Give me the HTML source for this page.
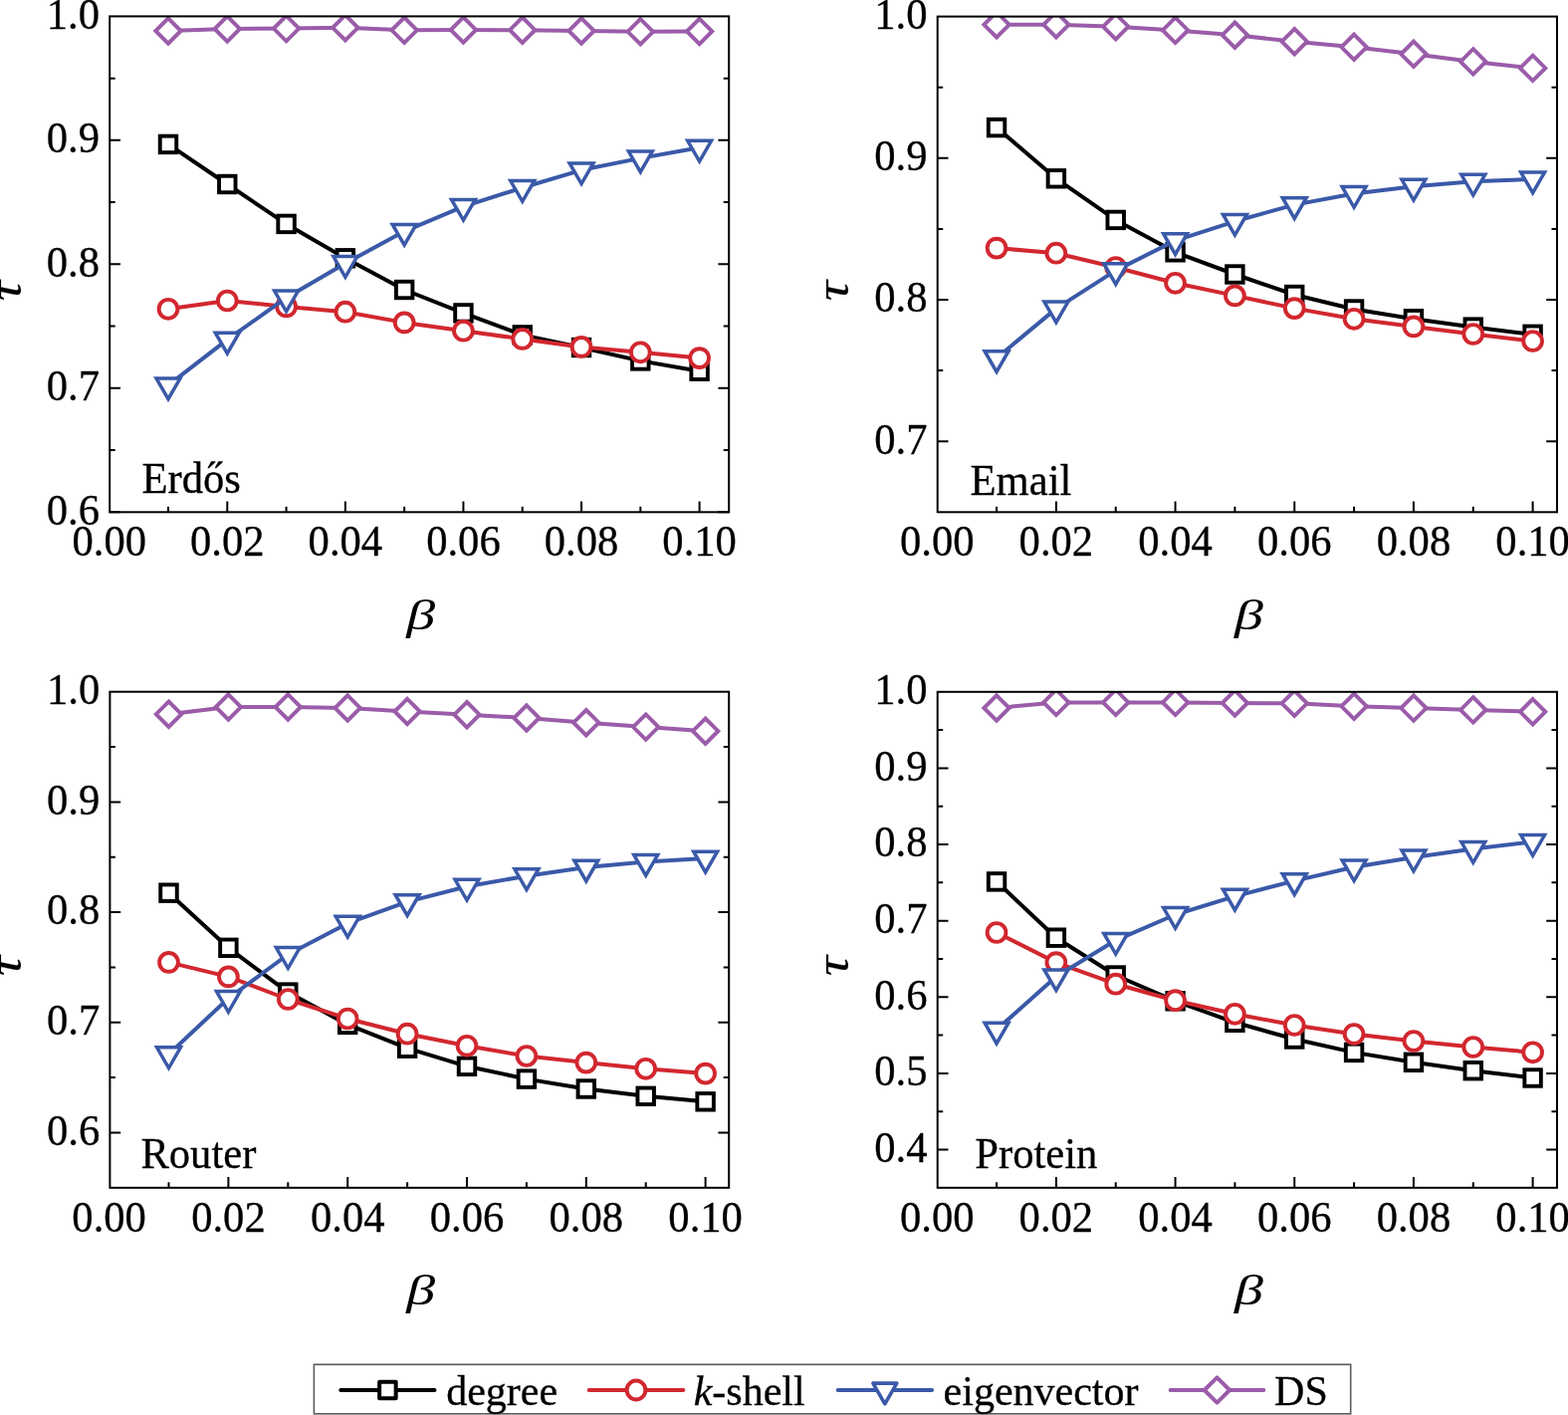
<!DOCTYPE html>
<html><head><meta charset="utf-8"><style>
html,body{margin:0;padding:0;background:#fff;overflow:hidden;}
svg{display:block;}
text{stroke:#000;stroke-width:0.3px;stroke-linejoin:round;}
</style></head><body>
<svg width="1575" height="1421" viewBox="0 0 1575 1421" font-family="'Liberation Serif', 'Times New Roman', serif" font-size="42.6" fill="#000">
<rect width="1575" height="1421" fill="#fff"/>
<path d="M168.99,514.30V508.80M228.28,514.30V503.50M287.57,514.30V508.80M346.86,514.30V503.50M406.15,514.30V508.80M465.44,514.30V503.50M524.73,514.30V508.80M584.02,514.30V503.50M643.31,514.30V508.80M702.60,514.30V503.50M110.20,514.30H121.00M732.20,514.30H721.40M110.20,389.82H121.00M732.20,389.82H721.40M110.20,265.35H121.00M732.20,265.35H721.40M110.20,140.87H121.00M732.20,140.87H721.40M110.20,78.64H115.70M732.20,78.64H726.70M110.20,203.11H115.70M732.20,203.11H726.70M110.20,327.59H115.70M732.20,327.59H726.70M110.20,452.06H115.70M732.20,452.06H726.70" stroke="#000" stroke-width="2.0" fill="none"/>
<clipPath id="c0"><rect x="110.20" y="16.40" width="622.00" height="497.90"/></clipPath>
<g clip-path="url(#c0)">
<path d="M168.99,144.90 L228.28,185.00 L287.57,224.90 L346.86,259.30 L406.15,291.00 L465.44,314.40 L524.73,336.40 L584.02,349.00 L643.31,362.40 L702.60,372.70" fill="none" stroke="#000000" stroke-width="4.0" stroke-linejoin="round"/>
<rect x="160.74" y="136.65" width="16.50" height="16.50" fill="#fff" stroke="#000000" stroke-width="3.9" stroke-linejoin="miter"/>
<rect x="220.03" y="176.75" width="16.50" height="16.50" fill="#fff" stroke="#000000" stroke-width="3.9" stroke-linejoin="miter"/>
<rect x="279.32" y="216.65" width="16.50" height="16.50" fill="#fff" stroke="#000000" stroke-width="3.9" stroke-linejoin="miter"/>
<rect x="338.61" y="251.05" width="16.50" height="16.50" fill="#fff" stroke="#000000" stroke-width="3.9" stroke-linejoin="miter"/>
<rect x="397.90" y="282.75" width="16.50" height="16.50" fill="#fff" stroke="#000000" stroke-width="3.9" stroke-linejoin="miter"/>
<rect x="457.19" y="306.15" width="16.50" height="16.50" fill="#fff" stroke="#000000" stroke-width="3.9" stroke-linejoin="miter"/>
<rect x="516.48" y="328.15" width="16.50" height="16.50" fill="#fff" stroke="#000000" stroke-width="3.9" stroke-linejoin="miter"/>
<rect x="575.77" y="340.75" width="16.50" height="16.50" fill="#fff" stroke="#000000" stroke-width="3.9" stroke-linejoin="miter"/>
<rect x="635.06" y="354.15" width="16.50" height="16.50" fill="#fff" stroke="#000000" stroke-width="3.9" stroke-linejoin="miter"/>
<rect x="694.35" y="364.45" width="16.50" height="16.50" fill="#fff" stroke="#000000" stroke-width="3.9" stroke-linejoin="miter"/>
<path d="M168.99,310.30 L228.28,302.00 L287.57,307.90 L346.86,313.20 L406.15,323.90 L465.44,332.20 L524.73,340.40 L584.02,348.40 L643.31,353.80 L702.60,359.60" fill="none" stroke="#d2272f" stroke-width="4.0" stroke-linejoin="round"/>
<circle cx="168.99" cy="310.30" r="9.40" fill="#fff" stroke="#d2272f" stroke-width="3.9"/>
<circle cx="228.28" cy="302.00" r="9.40" fill="#fff" stroke="#d2272f" stroke-width="3.9"/>
<circle cx="287.57" cy="307.90" r="9.40" fill="#fff" stroke="#d2272f" stroke-width="3.9"/>
<circle cx="346.86" cy="313.20" r="9.40" fill="#fff" stroke="#d2272f" stroke-width="3.9"/>
<circle cx="406.15" cy="323.90" r="9.40" fill="#fff" stroke="#d2272f" stroke-width="3.9"/>
<circle cx="465.44" cy="332.20" r="9.40" fill="#fff" stroke="#d2272f" stroke-width="3.9"/>
<circle cx="524.73" cy="340.40" r="9.40" fill="#fff" stroke="#d2272f" stroke-width="3.9"/>
<circle cx="584.02" cy="348.40" r="9.40" fill="#fff" stroke="#d2272f" stroke-width="3.9"/>
<circle cx="643.31" cy="353.80" r="9.40" fill="#fff" stroke="#d2272f" stroke-width="3.9"/>
<circle cx="702.60" cy="359.60" r="9.40" fill="#fff" stroke="#d2272f" stroke-width="3.9"/>
<path d="M168.99,386.90 L228.28,341.10 L287.57,299.00 L346.86,264.50 L406.15,232.30 L465.44,207.30 L524.73,188.50 L584.02,170.80 L643.31,158.90 L702.60,148.20" fill="none" stroke="#3a59a8" stroke-width="4.0" stroke-linejoin="round"/>
<path d="M157.04,380.00H180.94L168.99,400.70Z" fill="#fff" stroke="#3a59a8" stroke-width="3.50" stroke-linejoin="miter"/>
<path d="M216.33,334.20H240.23L228.28,354.90Z" fill="#fff" stroke="#3a59a8" stroke-width="3.50" stroke-linejoin="miter"/>
<path d="M275.62,292.10H299.52L287.57,312.80Z" fill="#fff" stroke="#3a59a8" stroke-width="3.50" stroke-linejoin="miter"/>
<path d="M334.91,257.60H358.81L346.86,278.30Z" fill="#fff" stroke="#3a59a8" stroke-width="3.50" stroke-linejoin="miter"/>
<path d="M394.20,225.40H418.10L406.15,246.10Z" fill="#fff" stroke="#3a59a8" stroke-width="3.50" stroke-linejoin="miter"/>
<path d="M453.49,200.40H477.39L465.44,221.10Z" fill="#fff" stroke="#3a59a8" stroke-width="3.50" stroke-linejoin="miter"/>
<path d="M512.78,181.60H536.68L524.73,202.30Z" fill="#fff" stroke="#3a59a8" stroke-width="3.50" stroke-linejoin="miter"/>
<path d="M572.07,163.90H595.97L584.02,184.60Z" fill="#fff" stroke="#3a59a8" stroke-width="3.50" stroke-linejoin="miter"/>
<path d="M631.36,152.00H655.26L643.31,172.70Z" fill="#fff" stroke="#3a59a8" stroke-width="3.50" stroke-linejoin="miter"/>
<path d="M690.65,141.30H714.55L702.60,162.00Z" fill="#fff" stroke="#3a59a8" stroke-width="3.50" stroke-linejoin="miter"/>
<path d="M168.99,31.00 L228.28,29.00 L287.57,28.60 L346.86,27.80 L406.15,30.30 L465.44,30.00 L524.73,30.20 L584.02,31.00 L643.31,31.80 L702.60,31.50" fill="none" stroke="#9a5ca9" stroke-width="4.0" stroke-linejoin="round"/>
<path d="M168.99,18.30L181.69,31.00L168.99,43.70L156.29,31.00Z" fill="#fff" stroke="#9a5ca9" stroke-width="3.9" stroke-linejoin="miter"/>
<path d="M228.28,16.30L240.98,29.00L228.28,41.70L215.58,29.00Z" fill="#fff" stroke="#9a5ca9" stroke-width="3.9" stroke-linejoin="miter"/>
<path d="M287.57,15.90L300.27,28.60L287.57,41.30L274.87,28.60Z" fill="#fff" stroke="#9a5ca9" stroke-width="3.9" stroke-linejoin="miter"/>
<path d="M346.86,15.10L359.56,27.80L346.86,40.50L334.16,27.80Z" fill="#fff" stroke="#9a5ca9" stroke-width="3.9" stroke-linejoin="miter"/>
<path d="M406.15,17.60L418.85,30.30L406.15,43.00L393.45,30.30Z" fill="#fff" stroke="#9a5ca9" stroke-width="3.9" stroke-linejoin="miter"/>
<path d="M465.44,17.30L478.14,30.00L465.44,42.70L452.74,30.00Z" fill="#fff" stroke="#9a5ca9" stroke-width="3.9" stroke-linejoin="miter"/>
<path d="M524.73,17.50L537.43,30.20L524.73,42.90L512.03,30.20Z" fill="#fff" stroke="#9a5ca9" stroke-width="3.9" stroke-linejoin="miter"/>
<path d="M584.02,18.30L596.72,31.00L584.02,43.70L571.32,31.00Z" fill="#fff" stroke="#9a5ca9" stroke-width="3.9" stroke-linejoin="miter"/>
<path d="M643.31,19.10L656.01,31.80L643.31,44.50L630.61,31.80Z" fill="#fff" stroke="#9a5ca9" stroke-width="3.9" stroke-linejoin="miter"/>
<path d="M702.60,18.80L715.30,31.50L702.60,44.20L689.90,31.50Z" fill="#fff" stroke="#9a5ca9" stroke-width="3.9" stroke-linejoin="miter"/>
</g>
<rect x="110.20" y="16.40" width="622.00" height="497.90" fill="none" stroke="#000" stroke-width="2.0"/>
<text transform="matrix(1 0 0 1.035 109.70 558.30)" text-anchor="middle">0.00</text>
<text transform="matrix(1 0 0 1.035 228.28 558.30)" text-anchor="middle">0.02</text>
<text transform="matrix(1 0 0 1.035 346.86 558.30)" text-anchor="middle">0.04</text>
<text transform="matrix(1 0 0 1.035 465.44 558.30)" text-anchor="middle">0.06</text>
<text transform="matrix(1 0 0 1.035 584.02 558.30)" text-anchor="middle">0.08</text>
<text transform="matrix(1 0 0 1.035 702.60 558.30)" text-anchor="middle">0.10</text>
<text transform="matrix(1 0 0 1.035 100.00 526.70)" text-anchor="end">0.6</text>
<text transform="matrix(1 0 0 1.035 100.00 402.22)" text-anchor="end">0.7</text>
<text transform="matrix(1 0 0 1.035 100.00 277.75)" text-anchor="end">0.8</text>
<text transform="matrix(1 0 0 1.035 100.00 153.27)" text-anchor="end">0.9</text>
<text transform="matrix(1 0 0 1.035 100.00 28.80)" text-anchor="end">1.0</text>
<text font-style="italic" text-anchor="middle" style="stroke-width:0.15px" transform="translate(20.5 292.3) rotate(-90) scale(1.32 1.14)">τ</text>
<text font-style="italic" text-anchor="middle" style="stroke:none" transform="translate(422.7 631.5) scale(1.36 1)">β</text>
<text transform="matrix(1 0 0 1.035 142.5 495)">Erdős</text>
<path d="M1001.04,514.30V508.80M1060.88,514.30V503.50M1120.72,514.30V508.80M1180.56,514.30V503.50M1240.40,514.30V508.80M1300.24,514.30V503.50M1360.08,514.30V508.80M1419.92,514.30V503.50M1479.76,514.30V508.80M1539.60,514.30V503.50M941.70,443.20H952.50M1564.00,443.20H1553.20M941.70,301.00H952.50M1564.00,301.00H1553.20M941.70,158.80H952.50M1564.00,158.80H1553.20M941.70,87.70H947.20M1564.00,87.70H1558.50M941.70,229.90H947.20M1564.00,229.90H1558.50M941.70,372.10H947.20M1564.00,372.10H1558.50" stroke="#000" stroke-width="2.0" fill="none"/>
<clipPath id="c1"><rect x="941.70" y="16.60" width="622.30" height="497.70"/></clipPath>
<g clip-path="url(#c1)">
<path d="M1001.04,128.10 L1060.88,179.30 L1120.72,220.90 L1180.56,253.30 L1240.40,275.50 L1300.24,296.00 L1360.08,310.50 L1419.92,320.20 L1479.76,328.60 L1539.60,335.80" fill="none" stroke="#000000" stroke-width="4.0" stroke-linejoin="round"/>
<rect x="992.79" y="119.85" width="16.50" height="16.50" fill="#fff" stroke="#000000" stroke-width="3.9" stroke-linejoin="miter"/>
<rect x="1052.63" y="171.05" width="16.50" height="16.50" fill="#fff" stroke="#000000" stroke-width="3.9" stroke-linejoin="miter"/>
<rect x="1112.47" y="212.65" width="16.50" height="16.50" fill="#fff" stroke="#000000" stroke-width="3.9" stroke-linejoin="miter"/>
<rect x="1172.31" y="245.05" width="16.50" height="16.50" fill="#fff" stroke="#000000" stroke-width="3.9" stroke-linejoin="miter"/>
<rect x="1232.15" y="267.25" width="16.50" height="16.50" fill="#fff" stroke="#000000" stroke-width="3.9" stroke-linejoin="miter"/>
<rect x="1291.99" y="287.75" width="16.50" height="16.50" fill="#fff" stroke="#000000" stroke-width="3.9" stroke-linejoin="miter"/>
<rect x="1351.83" y="302.25" width="16.50" height="16.50" fill="#fff" stroke="#000000" stroke-width="3.9" stroke-linejoin="miter"/>
<rect x="1411.67" y="311.95" width="16.50" height="16.50" fill="#fff" stroke="#000000" stroke-width="3.9" stroke-linejoin="miter"/>
<rect x="1471.51" y="320.35" width="16.50" height="16.50" fill="#fff" stroke="#000000" stroke-width="3.9" stroke-linejoin="miter"/>
<rect x="1531.35" y="327.55" width="16.50" height="16.50" fill="#fff" stroke="#000000" stroke-width="3.9" stroke-linejoin="miter"/>
<path d="M1001.04,249.10 L1060.88,254.20 L1120.72,268.50 L1180.56,284.30 L1240.40,296.90 L1300.24,309.60 L1360.08,320.30 L1419.92,327.90 L1479.76,335.50 L1539.60,342.50" fill="none" stroke="#d2272f" stroke-width="4.0" stroke-linejoin="round"/>
<circle cx="1001.04" cy="249.10" r="9.40" fill="#fff" stroke="#d2272f" stroke-width="3.9"/>
<circle cx="1060.88" cy="254.20" r="9.40" fill="#fff" stroke="#d2272f" stroke-width="3.9"/>
<circle cx="1120.72" cy="268.50" r="9.40" fill="#fff" stroke="#d2272f" stroke-width="3.9"/>
<circle cx="1180.56" cy="284.30" r="9.40" fill="#fff" stroke="#d2272f" stroke-width="3.9"/>
<circle cx="1240.40" cy="296.90" r="9.40" fill="#fff" stroke="#d2272f" stroke-width="3.9"/>
<circle cx="1300.24" cy="309.60" r="9.40" fill="#fff" stroke="#d2272f" stroke-width="3.9"/>
<circle cx="1360.08" cy="320.30" r="9.40" fill="#fff" stroke="#d2272f" stroke-width="3.9"/>
<circle cx="1419.92" cy="327.90" r="9.40" fill="#fff" stroke="#d2272f" stroke-width="3.9"/>
<circle cx="1479.76" cy="335.50" r="9.40" fill="#fff" stroke="#d2272f" stroke-width="3.9"/>
<circle cx="1539.60" cy="342.50" r="9.40" fill="#fff" stroke="#d2272f" stroke-width="3.9"/>
<path d="M1001.04,359.60 L1060.88,309.90 L1120.72,271.60 L1180.56,241.60 L1240.40,222.30 L1300.24,205.60 L1360.08,194.50 L1419.92,187.20 L1479.76,182.20 L1539.60,179.90" fill="none" stroke="#3a59a8" stroke-width="4.0" stroke-linejoin="round"/>
<path d="M989.09,352.70H1012.99L1001.04,373.40Z" fill="#fff" stroke="#3a59a8" stroke-width="3.50" stroke-linejoin="miter"/>
<path d="M1048.93,303.00H1072.83L1060.88,323.70Z" fill="#fff" stroke="#3a59a8" stroke-width="3.50" stroke-linejoin="miter"/>
<path d="M1108.77,264.70H1132.67L1120.72,285.40Z" fill="#fff" stroke="#3a59a8" stroke-width="3.50" stroke-linejoin="miter"/>
<path d="M1168.61,234.70H1192.51L1180.56,255.40Z" fill="#fff" stroke="#3a59a8" stroke-width="3.50" stroke-linejoin="miter"/>
<path d="M1228.45,215.40H1252.35L1240.40,236.10Z" fill="#fff" stroke="#3a59a8" stroke-width="3.50" stroke-linejoin="miter"/>
<path d="M1288.29,198.70H1312.19L1300.24,219.40Z" fill="#fff" stroke="#3a59a8" stroke-width="3.50" stroke-linejoin="miter"/>
<path d="M1348.13,187.60H1372.03L1360.08,208.30Z" fill="#fff" stroke="#3a59a8" stroke-width="3.50" stroke-linejoin="miter"/>
<path d="M1407.97,180.30H1431.87L1419.92,201.00Z" fill="#fff" stroke="#3a59a8" stroke-width="3.50" stroke-linejoin="miter"/>
<path d="M1467.81,175.30H1491.71L1479.76,196.00Z" fill="#fff" stroke="#3a59a8" stroke-width="3.50" stroke-linejoin="miter"/>
<path d="M1527.65,173.00H1551.55L1539.60,193.70Z" fill="#fff" stroke="#3a59a8" stroke-width="3.50" stroke-linejoin="miter"/>
<path d="M1001.04,24.80 L1060.88,24.80 L1120.72,26.70 L1180.56,30.40 L1240.40,35.20 L1300.24,41.70 L1360.08,47.30 L1419.92,54.30 L1479.76,61.90 L1539.60,68.40" fill="none" stroke="#9a5ca9" stroke-width="4.0" stroke-linejoin="round"/>
<path d="M1001.04,12.10L1013.74,24.80L1001.04,37.50L988.34,24.80Z" fill="#fff" stroke="#9a5ca9" stroke-width="3.9" stroke-linejoin="miter"/>
<path d="M1060.88,12.10L1073.58,24.80L1060.88,37.50L1048.18,24.80Z" fill="#fff" stroke="#9a5ca9" stroke-width="3.9" stroke-linejoin="miter"/>
<path d="M1120.72,14.00L1133.42,26.70L1120.72,39.40L1108.02,26.70Z" fill="#fff" stroke="#9a5ca9" stroke-width="3.9" stroke-linejoin="miter"/>
<path d="M1180.56,17.70L1193.26,30.40L1180.56,43.10L1167.86,30.40Z" fill="#fff" stroke="#9a5ca9" stroke-width="3.9" stroke-linejoin="miter"/>
<path d="M1240.40,22.50L1253.10,35.20L1240.40,47.90L1227.70,35.20Z" fill="#fff" stroke="#9a5ca9" stroke-width="3.9" stroke-linejoin="miter"/>
<path d="M1300.24,29.00L1312.94,41.70L1300.24,54.40L1287.54,41.70Z" fill="#fff" stroke="#9a5ca9" stroke-width="3.9" stroke-linejoin="miter"/>
<path d="M1360.08,34.60L1372.78,47.30L1360.08,60.00L1347.38,47.30Z" fill="#fff" stroke="#9a5ca9" stroke-width="3.9" stroke-linejoin="miter"/>
<path d="M1419.92,41.60L1432.62,54.30L1419.92,67.00L1407.22,54.30Z" fill="#fff" stroke="#9a5ca9" stroke-width="3.9" stroke-linejoin="miter"/>
<path d="M1479.76,49.20L1492.46,61.90L1479.76,74.60L1467.06,61.90Z" fill="#fff" stroke="#9a5ca9" stroke-width="3.9" stroke-linejoin="miter"/>
<path d="M1539.60,55.70L1552.30,68.40L1539.60,81.10L1526.90,68.40Z" fill="#fff" stroke="#9a5ca9" stroke-width="3.9" stroke-linejoin="miter"/>
</g>
<rect x="941.70" y="16.60" width="622.30" height="497.70" fill="none" stroke="#000" stroke-width="2.0"/>
<text transform="matrix(1 0 0 1.035 941.20 558.30)" text-anchor="middle">0.00</text>
<text transform="matrix(1 0 0 1.035 1060.88 558.30)" text-anchor="middle">0.02</text>
<text transform="matrix(1 0 0 1.035 1180.56 558.30)" text-anchor="middle">0.04</text>
<text transform="matrix(1 0 0 1.035 1300.24 558.30)" text-anchor="middle">0.06</text>
<text transform="matrix(1 0 0 1.035 1419.92 558.30)" text-anchor="middle">0.08</text>
<text transform="matrix(1 0 0 1.035 1539.60 558.30)" text-anchor="middle">0.10</text>
<text transform="matrix(1 0 0 1.035 931.50 455.60)" text-anchor="end">0.7</text>
<text transform="matrix(1 0 0 1.035 931.50 313.40)" text-anchor="end">0.8</text>
<text transform="matrix(1 0 0 1.035 931.50 171.20)" text-anchor="end">0.9</text>
<text transform="matrix(1 0 0 1.035 931.50 29.00)" text-anchor="end">1.0</text>
<text font-style="italic" text-anchor="middle" style="stroke-width:0.15px" transform="translate(852 292.3) rotate(-90) scale(1.32 1.14)">τ</text>
<text font-style="italic" text-anchor="middle" style="stroke:none" transform="translate(1254.5 631.5) scale(1.36 1)">β</text>
<text transform="matrix(1 0 0 1.035 974.6 496.7)">Email</text>
<path d="M169.50,1192.80V1187.30M229.40,1192.80V1182.00M289.30,1192.80V1187.30M349.20,1192.80V1182.00M409.10,1192.80V1187.30M469.00,1192.80V1182.00M528.90,1192.80V1187.30M588.80,1192.80V1182.00M648.70,1192.80V1187.30M708.60,1192.80V1182.00M110.40,1137.46H121.20M732.20,1137.46H721.40M110.40,1026.77H121.20M732.20,1026.77H721.40M110.40,916.08H121.20M732.20,916.08H721.40M110.40,805.39H121.20M732.20,805.39H721.40M110.40,750.04H115.90M732.20,750.04H726.70M110.40,860.73H115.90M732.20,860.73H726.70M110.40,971.42H115.90M732.20,971.42H726.70M110.40,1082.11H115.90M732.20,1082.11H726.70" stroke="#000" stroke-width="2.0" fill="none"/>
<clipPath id="c2"><rect x="110.40" y="694.70" width="621.80" height="498.10"/></clipPath>
<g clip-path="url(#c2)">
<path d="M169.50,896.70 L229.40,951.80 L289.30,996.60 L349.20,1028.90 L409.10,1052.70 L469.00,1070.80 L528.90,1083.60 L588.80,1093.50 L648.70,1100.80 L708.60,1106.30" fill="none" stroke="#000000" stroke-width="4.0" stroke-linejoin="round"/>
<rect x="161.25" y="888.45" width="16.50" height="16.50" fill="#fff" stroke="#000000" stroke-width="3.9" stroke-linejoin="miter"/>
<rect x="221.15" y="943.55" width="16.50" height="16.50" fill="#fff" stroke="#000000" stroke-width="3.9" stroke-linejoin="miter"/>
<rect x="281.05" y="988.35" width="16.50" height="16.50" fill="#fff" stroke="#000000" stroke-width="3.9" stroke-linejoin="miter"/>
<rect x="340.95" y="1020.65" width="16.50" height="16.50" fill="#fff" stroke="#000000" stroke-width="3.9" stroke-linejoin="miter"/>
<rect x="400.85" y="1044.45" width="16.50" height="16.50" fill="#fff" stroke="#000000" stroke-width="3.9" stroke-linejoin="miter"/>
<rect x="460.75" y="1062.55" width="16.50" height="16.50" fill="#fff" stroke="#000000" stroke-width="3.9" stroke-linejoin="miter"/>
<rect x="520.65" y="1075.35" width="16.50" height="16.50" fill="#fff" stroke="#000000" stroke-width="3.9" stroke-linejoin="miter"/>
<rect x="580.55" y="1085.25" width="16.50" height="16.50" fill="#fff" stroke="#000000" stroke-width="3.9" stroke-linejoin="miter"/>
<rect x="640.45" y="1092.55" width="16.50" height="16.50" fill="#fff" stroke="#000000" stroke-width="3.9" stroke-linejoin="miter"/>
<rect x="700.35" y="1098.05" width="16.50" height="16.50" fill="#fff" stroke="#000000" stroke-width="3.9" stroke-linejoin="miter"/>
<path d="M169.50,966.40 L229.40,980.90 L289.30,1003.50 L349.20,1023.00 L409.10,1038.20 L469.00,1050.30 L528.90,1060.50 L588.80,1067.10 L648.70,1073.30 L708.60,1078.10" fill="none" stroke="#d2272f" stroke-width="4.0" stroke-linejoin="round"/>
<circle cx="169.50" cy="966.40" r="9.40" fill="#fff" stroke="#d2272f" stroke-width="3.9"/>
<circle cx="229.40" cy="980.90" r="9.40" fill="#fff" stroke="#d2272f" stroke-width="3.9"/>
<circle cx="289.30" cy="1003.50" r="9.40" fill="#fff" stroke="#d2272f" stroke-width="3.9"/>
<circle cx="349.20" cy="1023.00" r="9.40" fill="#fff" stroke="#d2272f" stroke-width="3.9"/>
<circle cx="409.10" cy="1038.20" r="9.40" fill="#fff" stroke="#d2272f" stroke-width="3.9"/>
<circle cx="469.00" cy="1050.30" r="9.40" fill="#fff" stroke="#d2272f" stroke-width="3.9"/>
<circle cx="528.90" cy="1060.50" r="9.40" fill="#fff" stroke="#d2272f" stroke-width="3.9"/>
<circle cx="588.80" cy="1067.10" r="9.40" fill="#fff" stroke="#d2272f" stroke-width="3.9"/>
<circle cx="648.70" cy="1073.30" r="9.40" fill="#fff" stroke="#d2272f" stroke-width="3.9"/>
<circle cx="708.60" cy="1078.10" r="9.40" fill="#fff" stroke="#d2272f" stroke-width="3.9"/>
<path d="M169.50,1058.70 L229.40,1002.50 L289.30,958.50 L349.20,927.20 L409.10,905.60 L469.00,890.20 L528.90,879.70 L588.80,871.10 L648.70,865.40 L708.60,862.10" fill="none" stroke="#3a59a8" stroke-width="4.0" stroke-linejoin="round"/>
<path d="M157.55,1051.80H181.45L169.50,1072.50Z" fill="#fff" stroke="#3a59a8" stroke-width="3.50" stroke-linejoin="miter"/>
<path d="M217.45,995.60H241.35L229.40,1016.30Z" fill="#fff" stroke="#3a59a8" stroke-width="3.50" stroke-linejoin="miter"/>
<path d="M277.35,951.60H301.25L289.30,972.30Z" fill="#fff" stroke="#3a59a8" stroke-width="3.50" stroke-linejoin="miter"/>
<path d="M337.25,920.30H361.15L349.20,941.00Z" fill="#fff" stroke="#3a59a8" stroke-width="3.50" stroke-linejoin="miter"/>
<path d="M397.15,898.70H421.05L409.10,919.40Z" fill="#fff" stroke="#3a59a8" stroke-width="3.50" stroke-linejoin="miter"/>
<path d="M457.05,883.30H480.95L469.00,904.00Z" fill="#fff" stroke="#3a59a8" stroke-width="3.50" stroke-linejoin="miter"/>
<path d="M516.95,872.80H540.85L528.90,893.50Z" fill="#fff" stroke="#3a59a8" stroke-width="3.50" stroke-linejoin="miter"/>
<path d="M576.85,864.20H600.75L588.80,884.90Z" fill="#fff" stroke="#3a59a8" stroke-width="3.50" stroke-linejoin="miter"/>
<path d="M636.75,858.50H660.65L648.70,879.20Z" fill="#fff" stroke="#3a59a8" stroke-width="3.50" stroke-linejoin="miter"/>
<path d="M696.65,855.20H720.55L708.60,875.90Z" fill="#fff" stroke="#3a59a8" stroke-width="3.50" stroke-linejoin="miter"/>
<path d="M169.50,717.20 L229.40,710.00 L289.30,710.00 L349.20,711.00 L409.10,714.50 L469.00,717.70 L528.90,721.00 L588.80,725.70 L648.70,730.10 L708.60,734.20" fill="none" stroke="#9a5ca9" stroke-width="4.0" stroke-linejoin="round"/>
<path d="M169.50,704.50L182.20,717.20L169.50,729.90L156.80,717.20Z" fill="#fff" stroke="#9a5ca9" stroke-width="3.9" stroke-linejoin="miter"/>
<path d="M229.40,697.30L242.10,710.00L229.40,722.70L216.70,710.00Z" fill="#fff" stroke="#9a5ca9" stroke-width="3.9" stroke-linejoin="miter"/>
<path d="M289.30,697.30L302.00,710.00L289.30,722.70L276.60,710.00Z" fill="#fff" stroke="#9a5ca9" stroke-width="3.9" stroke-linejoin="miter"/>
<path d="M349.20,698.30L361.90,711.00L349.20,723.70L336.50,711.00Z" fill="#fff" stroke="#9a5ca9" stroke-width="3.9" stroke-linejoin="miter"/>
<path d="M409.10,701.80L421.80,714.50L409.10,727.20L396.40,714.50Z" fill="#fff" stroke="#9a5ca9" stroke-width="3.9" stroke-linejoin="miter"/>
<path d="M469.00,705.00L481.70,717.70L469.00,730.40L456.30,717.70Z" fill="#fff" stroke="#9a5ca9" stroke-width="3.9" stroke-linejoin="miter"/>
<path d="M528.90,708.30L541.60,721.00L528.90,733.70L516.20,721.00Z" fill="#fff" stroke="#9a5ca9" stroke-width="3.9" stroke-linejoin="miter"/>
<path d="M588.80,713.00L601.50,725.70L588.80,738.40L576.10,725.70Z" fill="#fff" stroke="#9a5ca9" stroke-width="3.9" stroke-linejoin="miter"/>
<path d="M648.70,717.40L661.40,730.10L648.70,742.80L636.00,730.10Z" fill="#fff" stroke="#9a5ca9" stroke-width="3.9" stroke-linejoin="miter"/>
<path d="M708.60,721.50L721.30,734.20L708.60,746.90L695.90,734.20Z" fill="#fff" stroke="#9a5ca9" stroke-width="3.9" stroke-linejoin="miter"/>
</g>
<rect x="110.40" y="694.70" width="621.80" height="498.10" fill="none" stroke="#000" stroke-width="2.0"/>
<text transform="matrix(1 0 0 1.035 109.60 1236.80)" text-anchor="middle">0.00</text>
<text transform="matrix(1 0 0 1.035 229.40 1236.80)" text-anchor="middle">0.02</text>
<text transform="matrix(1 0 0 1.035 349.20 1236.80)" text-anchor="middle">0.04</text>
<text transform="matrix(1 0 0 1.035 469.00 1236.80)" text-anchor="middle">0.06</text>
<text transform="matrix(1 0 0 1.035 588.80 1236.80)" text-anchor="middle">0.08</text>
<text transform="matrix(1 0 0 1.035 708.60 1236.80)" text-anchor="middle">0.10</text>
<text transform="matrix(1 0 0 1.035 100.20 1149.86)" text-anchor="end">0.6</text>
<text transform="matrix(1 0 0 1.035 100.20 1039.17)" text-anchor="end">0.7</text>
<text transform="matrix(1 0 0 1.035 100.20 928.48)" text-anchor="end">0.8</text>
<text transform="matrix(1 0 0 1.035 100.20 817.79)" text-anchor="end">0.9</text>
<text transform="matrix(1 0 0 1.035 100.20 707.10)" text-anchor="end">1.0</text>
<text font-style="italic" text-anchor="middle" style="stroke-width:0.15px" transform="translate(20.5 970.3) rotate(-90) scale(1.32 1.14)">τ</text>
<text font-style="italic" text-anchor="middle" style="stroke:none" transform="translate(422.7 1309.5) scale(1.36 1)">β</text>
<text transform="matrix(1 0 0 1.035 141.4 1172.7)">Router</text>
<path d="M1001.04,1192.80V1187.30M1060.88,1192.80V1182.00M1120.72,1192.80V1187.30M1180.56,1192.80V1182.00M1240.40,1192.80V1187.30M1300.24,1192.80V1182.00M1360.08,1192.80V1187.30M1419.92,1192.80V1182.00M1479.76,1192.80V1187.30M1539.60,1192.80V1182.00M941.70,1154.49H952.50M1564.00,1154.49H1553.20M941.70,1077.88H952.50M1564.00,1077.88H1553.20M941.70,1001.26H952.50M1564.00,1001.26H1553.20M941.70,924.65H952.50M1564.00,924.65H1553.20M941.70,848.03H952.50M1564.00,848.03H1553.20M941.70,771.42H952.50M1564.00,771.42H1553.20M941.70,733.11H947.20M1564.00,733.11H1558.50M941.70,809.72H947.20M1564.00,809.72H1558.50M941.70,886.34H947.20M1564.00,886.34H1558.50M941.70,962.95H947.20M1564.00,962.95H1558.50M941.70,1039.57H947.20M1564.00,1039.57H1558.50M941.70,1116.18H947.20M1564.00,1116.18H1558.50" stroke="#000" stroke-width="2.0" fill="none"/>
<clipPath id="c3"><rect x="941.70" y="694.80" width="622.30" height="498.00"/></clipPath>
<g clip-path="url(#c3)">
<path d="M1001.04,885.40 L1060.88,941.70 L1120.72,979.50 L1180.56,1005.30 L1240.40,1026.80 L1300.24,1043.50 L1360.08,1056.90 L1419.92,1066.80 L1479.76,1075.20 L1539.60,1082.50" fill="none" stroke="#000000" stroke-width="4.0" stroke-linejoin="round"/>
<rect x="992.79" y="877.15" width="16.50" height="16.50" fill="#fff" stroke="#000000" stroke-width="3.9" stroke-linejoin="miter"/>
<rect x="1052.63" y="933.45" width="16.50" height="16.50" fill="#fff" stroke="#000000" stroke-width="3.9" stroke-linejoin="miter"/>
<rect x="1112.47" y="971.25" width="16.50" height="16.50" fill="#fff" stroke="#000000" stroke-width="3.9" stroke-linejoin="miter"/>
<rect x="1172.31" y="997.05" width="16.50" height="16.50" fill="#fff" stroke="#000000" stroke-width="3.9" stroke-linejoin="miter"/>
<rect x="1232.15" y="1018.55" width="16.50" height="16.50" fill="#fff" stroke="#000000" stroke-width="3.9" stroke-linejoin="miter"/>
<rect x="1291.99" y="1035.25" width="16.50" height="16.50" fill="#fff" stroke="#000000" stroke-width="3.9" stroke-linejoin="miter"/>
<rect x="1351.83" y="1048.65" width="16.50" height="16.50" fill="#fff" stroke="#000000" stroke-width="3.9" stroke-linejoin="miter"/>
<rect x="1411.67" y="1058.55" width="16.50" height="16.50" fill="#fff" stroke="#000000" stroke-width="3.9" stroke-linejoin="miter"/>
<rect x="1471.51" y="1066.95" width="16.50" height="16.50" fill="#fff" stroke="#000000" stroke-width="3.9" stroke-linejoin="miter"/>
<rect x="1531.35" y="1074.25" width="16.50" height="16.50" fill="#fff" stroke="#000000" stroke-width="3.9" stroke-linejoin="miter"/>
<path d="M1001.04,936.50 L1060.88,966.60 L1120.72,988.20 L1180.56,1004.70 L1240.40,1018.30 L1300.24,1029.50 L1360.08,1038.50 L1419.92,1045.50 L1479.76,1051.50 L1539.60,1056.80" fill="none" stroke="#d2272f" stroke-width="4.0" stroke-linejoin="round"/>
<circle cx="1001.04" cy="936.50" r="9.40" fill="#fff" stroke="#d2272f" stroke-width="3.9"/>
<circle cx="1060.88" cy="966.60" r="9.40" fill="#fff" stroke="#d2272f" stroke-width="3.9"/>
<circle cx="1120.72" cy="988.20" r="9.40" fill="#fff" stroke="#d2272f" stroke-width="3.9"/>
<circle cx="1180.56" cy="1004.70" r="9.40" fill="#fff" stroke="#d2272f" stroke-width="3.9"/>
<circle cx="1240.40" cy="1018.30" r="9.40" fill="#fff" stroke="#d2272f" stroke-width="3.9"/>
<circle cx="1300.24" cy="1029.50" r="9.40" fill="#fff" stroke="#d2272f" stroke-width="3.9"/>
<circle cx="1360.08" cy="1038.50" r="9.40" fill="#fff" stroke="#d2272f" stroke-width="3.9"/>
<circle cx="1419.92" cy="1045.50" r="9.40" fill="#fff" stroke="#d2272f" stroke-width="3.9"/>
<circle cx="1479.76" cy="1051.50" r="9.40" fill="#fff" stroke="#d2272f" stroke-width="3.9"/>
<circle cx="1539.60" cy="1056.80" r="9.40" fill="#fff" stroke="#d2272f" stroke-width="3.9"/>
<path d="M1001.04,1034.10 L1060.88,980.80 L1120.72,944.30 L1180.56,918.50 L1240.40,900.10 L1300.24,884.60 L1360.08,870.80 L1419.92,861.00 L1479.76,852.50 L1539.60,845.50" fill="none" stroke="#3a59a8" stroke-width="4.0" stroke-linejoin="round"/>
<path d="M989.09,1027.20H1012.99L1001.04,1047.90Z" fill="#fff" stroke="#3a59a8" stroke-width="3.50" stroke-linejoin="miter"/>
<path d="M1048.93,973.90H1072.83L1060.88,994.60Z" fill="#fff" stroke="#3a59a8" stroke-width="3.50" stroke-linejoin="miter"/>
<path d="M1108.77,937.40H1132.67L1120.72,958.10Z" fill="#fff" stroke="#3a59a8" stroke-width="3.50" stroke-linejoin="miter"/>
<path d="M1168.61,911.60H1192.51L1180.56,932.30Z" fill="#fff" stroke="#3a59a8" stroke-width="3.50" stroke-linejoin="miter"/>
<path d="M1228.45,893.20H1252.35L1240.40,913.90Z" fill="#fff" stroke="#3a59a8" stroke-width="3.50" stroke-linejoin="miter"/>
<path d="M1288.29,877.70H1312.19L1300.24,898.40Z" fill="#fff" stroke="#3a59a8" stroke-width="3.50" stroke-linejoin="miter"/>
<path d="M1348.13,863.90H1372.03L1360.08,884.60Z" fill="#fff" stroke="#3a59a8" stroke-width="3.50" stroke-linejoin="miter"/>
<path d="M1407.97,854.10H1431.87L1419.92,874.80Z" fill="#fff" stroke="#3a59a8" stroke-width="3.50" stroke-linejoin="miter"/>
<path d="M1467.81,845.60H1491.71L1479.76,866.30Z" fill="#fff" stroke="#3a59a8" stroke-width="3.50" stroke-linejoin="miter"/>
<path d="M1527.65,838.60H1551.55L1539.60,859.30Z" fill="#fff" stroke="#3a59a8" stroke-width="3.50" stroke-linejoin="miter"/>
<path d="M1001.04,711.00 L1060.88,705.40 L1120.72,705.40 L1180.56,705.40 L1240.40,706.00 L1300.24,706.30 L1360.08,709.30 L1419.92,711.10 L1479.76,712.90 L1539.60,714.80" fill="none" stroke="#9a5ca9" stroke-width="4.0" stroke-linejoin="round"/>
<path d="M1001.04,698.30L1013.74,711.00L1001.04,723.70L988.34,711.00Z" fill="#fff" stroke="#9a5ca9" stroke-width="3.9" stroke-linejoin="miter"/>
<path d="M1060.88,692.70L1073.58,705.40L1060.88,718.10L1048.18,705.40Z" fill="#fff" stroke="#9a5ca9" stroke-width="3.9" stroke-linejoin="miter"/>
<path d="M1120.72,692.70L1133.42,705.40L1120.72,718.10L1108.02,705.40Z" fill="#fff" stroke="#9a5ca9" stroke-width="3.9" stroke-linejoin="miter"/>
<path d="M1180.56,692.70L1193.26,705.40L1180.56,718.10L1167.86,705.40Z" fill="#fff" stroke="#9a5ca9" stroke-width="3.9" stroke-linejoin="miter"/>
<path d="M1240.40,693.30L1253.10,706.00L1240.40,718.70L1227.70,706.00Z" fill="#fff" stroke="#9a5ca9" stroke-width="3.9" stroke-linejoin="miter"/>
<path d="M1300.24,693.60L1312.94,706.30L1300.24,719.00L1287.54,706.30Z" fill="#fff" stroke="#9a5ca9" stroke-width="3.9" stroke-linejoin="miter"/>
<path d="M1360.08,696.60L1372.78,709.30L1360.08,722.00L1347.38,709.30Z" fill="#fff" stroke="#9a5ca9" stroke-width="3.9" stroke-linejoin="miter"/>
<path d="M1419.92,698.40L1432.62,711.10L1419.92,723.80L1407.22,711.10Z" fill="#fff" stroke="#9a5ca9" stroke-width="3.9" stroke-linejoin="miter"/>
<path d="M1479.76,700.20L1492.46,712.90L1479.76,725.60L1467.06,712.90Z" fill="#fff" stroke="#9a5ca9" stroke-width="3.9" stroke-linejoin="miter"/>
<path d="M1539.60,702.10L1552.30,714.80L1539.60,727.50L1526.90,714.80Z" fill="#fff" stroke="#9a5ca9" stroke-width="3.9" stroke-linejoin="miter"/>
</g>
<rect x="941.70" y="694.80" width="622.30" height="498.00" fill="none" stroke="#000" stroke-width="2.0"/>
<text transform="matrix(1 0 0 1.035 941.20 1236.80)" text-anchor="middle">0.00</text>
<text transform="matrix(1 0 0 1.035 1060.88 1236.80)" text-anchor="middle">0.02</text>
<text transform="matrix(1 0 0 1.035 1180.56 1236.80)" text-anchor="middle">0.04</text>
<text transform="matrix(1 0 0 1.035 1300.24 1236.80)" text-anchor="middle">0.06</text>
<text transform="matrix(1 0 0 1.035 1419.92 1236.80)" text-anchor="middle">0.08</text>
<text transform="matrix(1 0 0 1.035 1539.60 1236.80)" text-anchor="middle">0.10</text>
<text transform="matrix(1 0 0 1.035 931.50 1166.89)" text-anchor="end">0.4</text>
<text transform="matrix(1 0 0 1.035 931.50 1090.28)" text-anchor="end">0.5</text>
<text transform="matrix(1 0 0 1.035 931.50 1013.66)" text-anchor="end">0.6</text>
<text transform="matrix(1 0 0 1.035 931.50 937.05)" text-anchor="end">0.7</text>
<text transform="matrix(1 0 0 1.035 931.50 860.43)" text-anchor="end">0.8</text>
<text transform="matrix(1 0 0 1.035 931.50 783.82)" text-anchor="end">0.9</text>
<text transform="matrix(1 0 0 1.035 931.50 707.20)" text-anchor="end">1.0</text>
<text font-style="italic" text-anchor="middle" style="stroke-width:0.15px" transform="translate(852 970.3) rotate(-90) scale(1.32 1.14)">τ</text>
<text font-style="italic" text-anchor="middle" style="stroke:none" transform="translate(1254.5 1309.5) scale(1.36 1)">β</text>
<text transform="matrix(1 0 0 1.035 979.3 1173.2)">Protein</text>
<rect x="315.4" y="1370.3" width="1041.3" height="49.5" fill="#fff" stroke="#5a5a5a" stroke-width="1.6"/>
<path d="M342.30,1396H436.50" stroke="#000000" stroke-width="4.0" stroke-linecap="round"/>
<rect x="381.15" y="1387.75" width="16.50" height="16.50" fill="#fff" stroke="#000000" stroke-width="4.0" stroke-linejoin="round"/>
<text x="448.2" y="1410.5" font-size="42">degree</text>
<path d="M591.70,1396H686.30" stroke="#d2272f" stroke-width="4.0" stroke-linecap="round"/>
<circle cx="639.00" cy="1396.00" r="9.40" fill="#fff" stroke="#d2272f" stroke-width="4.0"/>
<text x="696.7" y="1410.5" font-size="42"><tspan font-style="italic">k</tspan>-shell</text>
<path d="M841.70,1396H936.00" stroke="#3a59a8" stroke-width="4.0" stroke-linecap="round"/>
<path d="M876.90,1389.10H900.80L888.85,1409.80Z" fill="#fff" stroke="#3a59a8" stroke-width="3.59" stroke-linejoin="round"/>
<text x="947.6" y="1410.5" font-size="42">eigenvector</text>
<path d="M1175.60,1396H1269.30" stroke="#9a5ca9" stroke-width="4.0" stroke-linecap="round"/>
<path d="M1222.45,1383.30L1235.15,1396.00L1222.45,1408.70L1209.75,1396.00Z" fill="#fff" stroke="#9a5ca9" stroke-width="4.0" stroke-linejoin="round"/>
<text x="1280.1" y="1410.5" font-size="42">DS</text>
</svg>
</body></html>
